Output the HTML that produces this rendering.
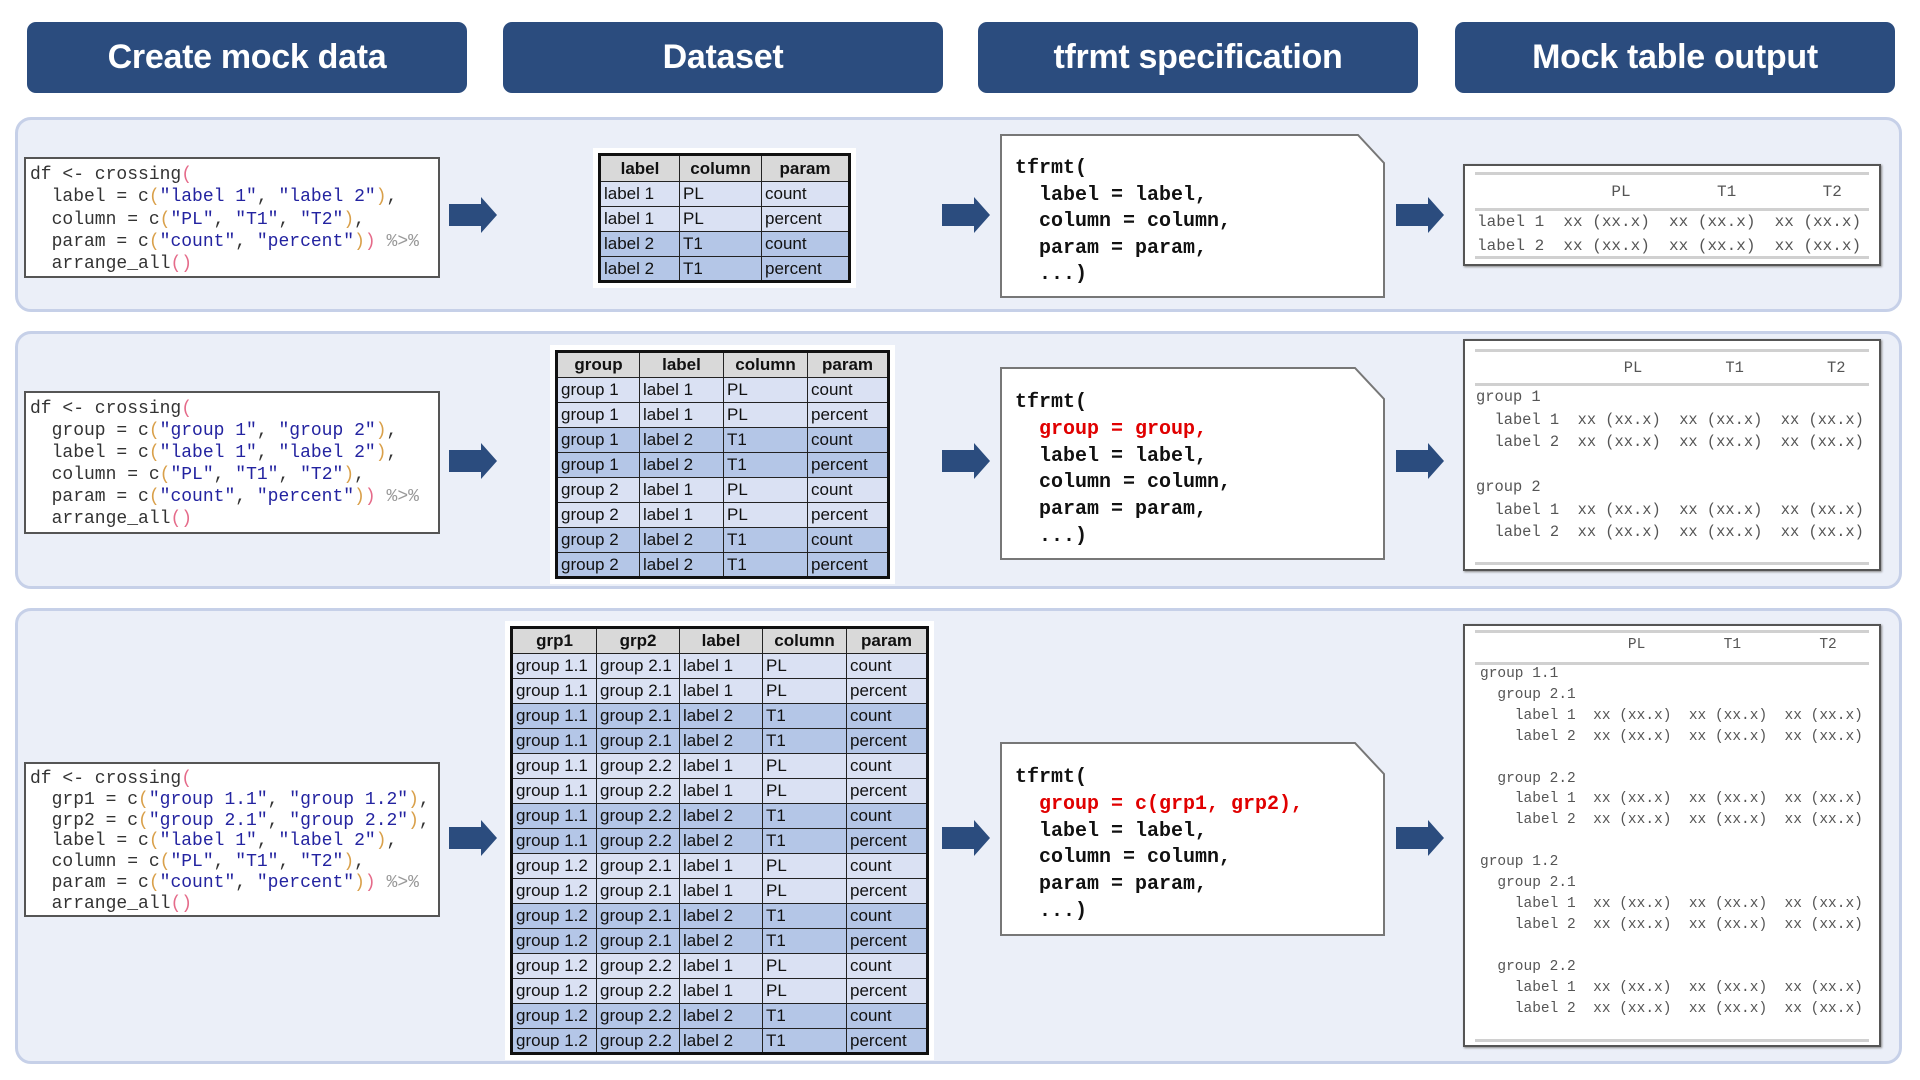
<!DOCTYPE html>
<html><head><meta charset="utf-8"><style>
body{margin:0;width:1920px;height:1080px;background:#fff;position:relative;overflow:hidden;font-family:"Liberation Sans",sans-serif}
.a{position:absolute}
.hd{position:absolute;top:22px;height:71px;width:440px;background:#2B4C7E;border-radius:9px;color:#fff;font-weight:bold;font-size:34px;text-align:center;line-height:71px;letter-spacing:-0.3px}
.pn{position:absolute;left:15px;width:1887px;background:#EBEFF8;border:3px solid #C6D0E8;border-radius:16px;box-sizing:border-box}
.code{position:absolute;left:24px;width:416px;background:#fff;border:2px solid #555;box-sizing:border-box;font-family:"Liberation Mono",monospace;font-size:18px;color:#333;white-space:pre;padding-left:4px}
.s{color:#2323A0}.o{color:#D9A04A}.p{color:#E56B8A}.g{color:#999}
.tf{position:absolute;left:1000px;width:385px}
.tf svg{position:absolute;left:0;top:0}
.tf pre{position:absolute;left:15px;margin:0;font-family:"Liberation Mono",monospace;font-size:20px;font-weight:bold;color:#111}
.r{color:#E00000}
.out{position:absolute;left:1463px;width:418px;background:#fff;border:2px solid #555;box-sizing:border-box;box-shadow:1px 1px 2px #888}
.out pre{position:absolute;margin:0;font-family:"Liberation Mono",monospace;color:#555;white-space:pre}
.ln{position:absolute;left:10px;right:10px;height:3px;background:#d0d0d0}
table{position:absolute;border-collapse:collapse;font-family:"Liberation Sans Narrow","Liberation Sans",sans-serif;font-size:17px;color:#111;border:3px solid #111;outline:5px solid #fff;table-layout:fixed}
td,th{border:1.5px solid #222;padding:0 3px;text-align:left;white-space:nowrap;overflow:hidden}
th{background:#D9D9D9;text-align:center;font-weight:bold}
tr.l td{background:#DAE1F3}tr.d td{background:#B4C6E7}
</style></head><body>
<div class="hd" style="left:27px">Create mock data</div>
<div class="hd" style="left:503px">Dataset</div>
<div class="hd" style="left:978px">tfrmt specification</div>
<div class="hd" style="left:1455px">Mock table output</div>

<div class="pn" style="top:117px;height:195px"></div>
<div class="pn" style="top:331px;height:258px"></div>
<div class="pn" style="top:608px;height:456px"></div>

<svg class="a" style="left:0;top:0" width="1920" height="1080">
<g fill="#2B4C7E">
<path d="M0,-11 H32 V-18 L48,0 L32,18 V11 H0 Z" transform="translate(449,215)"/>
<path d="M0,-11 H32 V-18 L48,0 L32,18 V11 H0 Z" transform="translate(942,215)"/>
<path d="M0,-11 H32 V-18 L48,0 L32,18 V11 H0 Z" transform="translate(1396,215)"/>
<path d="M0,-11 H32 V-18 L48,0 L32,18 V11 H0 Z" transform="translate(449,461)"/>
<path d="M0,-11 H32 V-18 L48,0 L32,18 V11 H0 Z" transform="translate(942,461)"/>
<path d="M0,-11 H32 V-18 L48,0 L32,18 V11 H0 Z" transform="translate(1396,461)"/>
<path d="M0,-11 H32 V-18 L48,0 L32,18 V11 H0 Z" transform="translate(449,838)"/>
<path d="M0,-11 H32 V-18 L48,0 L32,18 V11 H0 Z" transform="translate(942,838)"/>
<path d="M0,-11 H32 V-18 L48,0 L32,18 V11 H0 Z" transform="translate(1396,838)"/>
</g></svg>

<div class="code" style="top:157px;height:121px;line-height:22.3px;padding-top:5px">df &lt;- crossing<span class="p">(</span>
  label = c<span class="o">(</span><span class="s">"label 1"</span>, <span class="s">"label 2"</span><span class="o">)</span>,
  column = c<span class="o">(</span><span class="s">"PL"</span>, <span class="s">"T1"</span>, <span class="s">"T2"</span><span class="o">)</span>,
  param = c<span class="o">(</span><span class="s">"count"</span>, <span class="s">"percent"</span><span class="o">)</span><span class="p">)</span> <span class="g">%&gt;%</span>
  arrange_all<span class="p">()</span></div>
<div class="code" style="top:391px;height:143px;line-height:22px;padding-top:5px">df &lt;- crossing<span class="p">(</span>
  group = c<span class="o">(</span><span class="s">"group 1"</span>, <span class="s">"group 2"</span><span class="o">)</span>,
  label = c<span class="o">(</span><span class="s">"label 1"</span>, <span class="s">"label 2"</span><span class="o">)</span>,
  column = c<span class="o">(</span><span class="s">"PL"</span>, <span class="s">"T1"</span>, <span class="s">"T2"</span><span class="o">)</span>,
  param = c<span class="o">(</span><span class="s">"count"</span>, <span class="s">"percent"</span><span class="o">)</span><span class="p">)</span> <span class="g">%&gt;%</span>
  arrange_all<span class="p">()</span></div>
<div class="code" style="top:762px;height:155px;line-height:20.8px;padding-top:5px">df &lt;- crossing<span class="p">(</span>
  grp1 = c<span class="o">(</span><span class="s">"group 1.1"</span>, <span class="s">"group 1.2"</span><span class="o">)</span>,
  grp2 = c<span class="o">(</span><span class="s">"group 2.1"</span>, <span class="s">"group 2.2"</span><span class="o">)</span>,
  label = c<span class="o">(</span><span class="s">"label 1"</span>, <span class="s">"label 2"</span><span class="o">)</span>,
  column = c<span class="o">(</span><span class="s">"PL"</span>, <span class="s">"T1"</span>, <span class="s">"T2"</span><span class="o">)</span>,
  param = c<span class="o">(</span><span class="s">"count"</span>, <span class="s">"percent"</span><span class="o">)</span><span class="p">)</span> <span class="g">%&gt;%</span>
  arrange_all<span class="p">()</span></div>

<table style="left:598px;top:153px;width:253px">
<colgroup><col style="width:80px"><col style="width:82px"><col></colgroup>
<tr style="height:27px"><th>label</th><th>column</th><th>param</th></tr>
<tr class="l" style="height:25px"><td>label 1</td><td>PL</td><td>count</td></tr>
<tr class="l" style="height:25px"><td>label 1</td><td>PL</td><td>percent</td></tr>
<tr class="d" style="height:25px"><td>label 2</td><td>T1</td><td>count</td></tr>
<tr class="d" style="height:25px"><td>label 2</td><td>T1</td><td>percent</td></tr>
</table>

<table style="left:555px;top:350px;width:335px">
<colgroup><col style="width:83px"><col style="width:84px"><col style="width:84px"><col></colgroup>
<tr style="height:26px"><th>group</th><th>label</th><th>column</th><th>param</th></tr>
<tr class="l" style="height:25px"><td>group 1</td><td>label 1</td><td>PL</td><td>count</td></tr>
<tr class="l" style="height:25px"><td>group 1</td><td>label 1</td><td>PL</td><td>percent</td></tr>
<tr class="d" style="height:25px"><td>group 1</td><td>label 2</td><td>T1</td><td>count</td></tr>
<tr class="d" style="height:25px"><td>group 1</td><td>label 2</td><td>T1</td><td>percent</td></tr>
<tr class="l" style="height:25px"><td>group 2</td><td>label 1</td><td>PL</td><td>count</td></tr>
<tr class="l" style="height:25px"><td>group 2</td><td>label 1</td><td>PL</td><td>percent</td></tr>
<tr class="d" style="height:25px"><td>group 2</td><td>label 2</td><td>T1</td><td>count</td></tr>
<tr class="d" style="height:25px"><td>group 2</td><td>label 2</td><td>T1</td><td>percent</td></tr>
</table>

<table style="left:510px;top:626px;width:419px">
<colgroup><col style="width:85px"><col style="width:83px"><col style="width:83px"><col style="width:84px"><col></colgroup>
<tr style="height:26px"><th>grp1</th><th>grp2</th><th>label</th><th>column</th><th>param</th></tr>
<tr class="l" style="height:25px"><td>group 1.1</td><td>group 2.1</td><td>label 1</td><td>PL</td><td>count</td></tr>
<tr class="l" style="height:25px"><td>group 1.1</td><td>group 2.1</td><td>label 1</td><td>PL</td><td>percent</td></tr>
<tr class="d" style="height:25px"><td>group 1.1</td><td>group 2.1</td><td>label 2</td><td>T1</td><td>count</td></tr>
<tr class="d" style="height:25px"><td>group 1.1</td><td>group 2.1</td><td>label 2</td><td>T1</td><td>percent</td></tr>
<tr class="l" style="height:25px"><td>group 1.1</td><td>group 2.2</td><td>label 1</td><td>PL</td><td>count</td></tr>
<tr class="l" style="height:25px"><td>group 1.1</td><td>group 2.2</td><td>label 1</td><td>PL</td><td>percent</td></tr>
<tr class="d" style="height:25px"><td>group 1.1</td><td>group 2.2</td><td>label 2</td><td>T1</td><td>count</td></tr>
<tr class="d" style="height:25px"><td>group 1.1</td><td>group 2.2</td><td>label 2</td><td>T1</td><td>percent</td></tr>
<tr class="l" style="height:25px"><td>group 1.2</td><td>group 2.1</td><td>label 1</td><td>PL</td><td>count</td></tr>
<tr class="l" style="height:25px"><td>group 1.2</td><td>group 2.1</td><td>label 1</td><td>PL</td><td>percent</td></tr>
<tr class="d" style="height:25px"><td>group 1.2</td><td>group 2.1</td><td>label 2</td><td>T1</td><td>count</td></tr>
<tr class="d" style="height:25px"><td>group 1.2</td><td>group 2.1</td><td>label 2</td><td>T1</td><td>percent</td></tr>
<tr class="l" style="height:25px"><td>group 1.2</td><td>group 2.2</td><td>label 1</td><td>PL</td><td>count</td></tr>
<tr class="l" style="height:25px"><td>group 1.2</td><td>group 2.2</td><td>label 1</td><td>PL</td><td>percent</td></tr>
<tr class="d" style="height:25px"><td>group 1.2</td><td>group 2.2</td><td>label 2</td><td>T1</td><td>count</td></tr>
<tr class="d" style="height:25px"><td>group 1.2</td><td>group 2.2</td><td>label 2</td><td>T1</td><td>percent</td></tr>
</table>

<div class="tf" style="top:134px;height:164px">
<svg width="386" height="165"><path d="M1,1 H358 L384,29 V163 H1 Z" fill="#fff" stroke="#777" stroke-width="2"/></svg>
<pre style="top:22px;line-height:26.5px">tfrmt(
  label = label,
  column = column,
  param = param,
  ...)</pre></div>
<div class="tf" style="top:367px;height:193px">
<svg width="386" height="194"><path d="M1,1 H355 L384,32 V192 H1 Z" fill="#fff" stroke="#777" stroke-width="2"/></svg>
<pre style="top:23px;line-height:26.8px">tfrmt(
  <span class="r">group = group,</span>
  label = label,
  column = column,
  param = param,
  ...)</pre></div>
<div class="tf" style="top:742px;height:194px">
<svg width="386" height="195"><path d="M1,1 H355 L384,32 V193 H1 Z" fill="#fff" stroke="#777" stroke-width="2"/></svg>
<pre style="top:23px;line-height:26.8px">tfrmt(
  <span class="r">group = c(grp1, grp2),</span>
  label = label,
  column = column,
  param = param,
  ...)</pre></div>

<div class="out" style="top:164px;height:102px">
<div class="ln" style="top:6px"></div><div class="ln" style="top:42px"></div><div class="ln" style="top:90px"></div>
<pre style="left:12px;top:14px;font-size:16px;line-height:24px">              PL         T1         T2</pre>
<pre style="left:12px;top:44px;font-size:16px;line-height:24px">label 1  xx (xx.x)  xx (xx.x)  xx (xx.x)
label 2  xx (xx.x)  xx (xx.x)  xx (xx.x)</pre></div>

<div class="out" style="top:339px;height:232px">
<div class="ln" style="top:8px"></div><div class="ln" style="top:42px"></div><div class="ln" style="top:221px"></div>
<pre style="left:11px;top:16px;font-size:15.4px;line-height:22.5px">                PL         T1         T2</pre>
<pre style="left:11px;top:45px;font-size:15.4px;line-height:22.5px">group 1
  label 1  xx (xx.x)  xx (xx.x)  xx (xx.x)
  label 2  xx (xx.x)  xx (xx.x)  xx (xx.x)

group 2
  label 1  xx (xx.x)  xx (xx.x)  xx (xx.x)
  label 2  xx (xx.x)  xx (xx.x)  xx (xx.x)</pre></div>

<div class="out" style="top:624px;height:423px">
<div class="ln" style="top:4px"></div><div class="ln" style="top:36px"></div><div class="ln" style="top:413px"></div>
<pre style="left:15px;top:9px;font-size:14.5px;line-height:20.9px">                 PL         T1         T2</pre>
<pre style="left:15px;top:38px;font-size:14.5px;line-height:20.9px">group 1.1
  group 2.1
    label 1  xx (xx.x)  xx (xx.x)  xx (xx.x)
    label 2  xx (xx.x)  xx (xx.x)  xx (xx.x)

  group 2.2
    label 1  xx (xx.x)  xx (xx.x)  xx (xx.x)
    label 2  xx (xx.x)  xx (xx.x)  xx (xx.x)

group 1.2
  group 2.1
    label 1  xx (xx.x)  xx (xx.x)  xx (xx.x)
    label 2  xx (xx.x)  xx (xx.x)  xx (xx.x)

  group 2.2
    label 1  xx (xx.x)  xx (xx.x)  xx (xx.x)
    label 2  xx (xx.x)  xx (xx.x)  xx (xx.x)</pre></div>

</body></html>
